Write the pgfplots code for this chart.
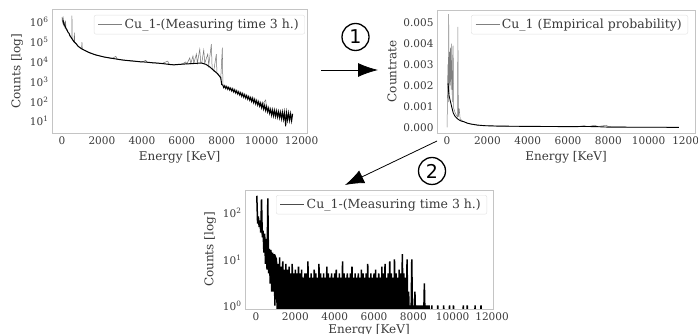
\documentclass[border=0pt]{standalone}
\usepackage{fontspec}
\setmainfont{DejaVu Serif}
\newfontfamily\circfont{DejaVu Sans}
\usepackage{pgfplots}
\pgfplotsset{compat=1.18}
\usetikzlibrary{arrows.meta}
\definecolor{txt}{HTML}{3A3A3A}
\definecolor{frm}{HTML}{C4C4C4}
\pgfplotsset{
  mystyle/.style={
    scale only axis,
    axis line style={frm, line width=0.8pt},
    major tick length=0pt, minor tick length=0pt,
    tick label style={font=\fontsize{10.5}{10.5}\selectfont, text=txt},
    label style={font=\fontsize{12}{12}\selectfont, text=txt},
    /pgf/number format/assume math mode=true,
    /pgf/number format/1000 sep={},
    scaled x ticks=false, scaled y ticks=false,
    xtick={0,2000,4000,6000,8000,10000,12000},
    legend style={draw=black!12, rounded corners=2pt, font=\fontsize{12.5}{14}\selectfont, text=txt, anchor=north east, inner xsep=4pt, inner ysep=2pt, fill=white},
    legend cell align=left,
    legend image code/.code={\draw[black!50, line width=0.6pt] (0pt,0pt) -- (24pt,0pt);},
  }
}
\begin{document}
\begin{tikzpicture}
\useasboundingbox (0pt,0pt) rectangle (698pt,334pt);
% ---------------- top-left ----------------
\begin{axis}[mystyle, at={(52pt,200.5pt)}, anchor=south west, width=255pt, height=124.5pt,
  xmin=-500, xmax=12270, ymode=log, ymin=2.43, ymax=4.7e6,
  ytick={10,100,1000,10000,100000,1000000},
  yticklabels={10\textsuperscript{1},10\textsuperscript{2},10\textsuperscript{3},10\textsuperscript{4},10\textsuperscript{5},10\textsuperscript{6}},
  xlabel={Energy [KeV]}, ylabel={Counts [log]},
  legend style={at={(0.992,0.952)}}]
\addplot[black!55, line width=0.5pt] coordinates {
(0,1.8e6)(20,1.0e6)(30,1.6e6)(45,8e5)(60,2.0e6)(75,7e5)(90,1.2e6)(110,6e5)(130,1.0e6)(150,5e5)(180,1.2e6)(200,4.5e5)(240,3.8e5)(300,3.3e5)(350,2.8e5)(400,2.0e5)(450,1.7e5)(490,1.5e5)(500,2.2e6)(510,1.4e5)(550,1.25e5)(600,1.0e5)(620,3e5)(640,9.5e4)(700,8.5e4)(800,6.3e4)(900,5.2e4)(980,4.6e4)(1000,1.0e5)(1020,4.4e4)(1200,3.5e4)(1400,2.8e4)(1600,2.4e4)(1800,2.1e4)(2000,1.86e4)(2200,1.7e4)(2500,1.48e4)(2700,1.9e4)(2750,1.42e4)(3000,1.26e4)(3500,1.1e4)(4000,1.0e4)(4200,1.2e4)(4250,9.8e3)(4500,9.1e3)(5000,8.3e3)(5300,1.1e4)(5350,7.9e3)(5500,7.4e3)(5800,7.4e3)(6000,7.6e3)(6200,1.0e4)(6250,7.9e3)(6400,1.6e4)(6450,8.2e3)(6560,2.0e4)(6600,8.4e3)(6730,2.5e4)(6780,8.7e3)(6900,4.4e4)(6950,8.9e3)(7000,8.9e3)(7100,4.0e4)(7150,8.5e3)(7300,2.5e4)(7350,6.6e3)(7480,8.0e4)(7520,4.5e3)(7600,3.5e3)(7730,2.5e4)(7760,2.6e3)(7900,1.8e3)(7950,1.4e3)(8030,5.2e4)(8060,6.3e2)(8400,4.4e2)(9000,2.2e2)(9500,1.26e2)(10000,63)(10200,1.2e2)(10250,48)(10500,28)(11000,20)(11500,16)
};
\addlegendentry{Cu\_1-(Measuring time 3 h.)}
\addplot[black, line width=1.0pt, forget plot] coordinates {
(50,1.26e6)(100,7.9e5)(150,6.6e5)(200,5.0e5)(250,4.2e5)(300,3.16e5)(350,2.8e5)(400,2.1e5)(450,1.78e5)(500,1.48e5)(600,1.05e5)(700,8.5e4)(800,6.3e4)(900,5.25e4)(1000,4.47e4)(1100,3.98e4)(1200,3.55e4)(1300,3.16e4)(1400,2.88e4)(1500,2.63e4)(1700,2.24e4)(1900,2.0e4)(2100,1.78e4)(2400,1.58e4)(2700,1.41e4)(3000,1.26e4)(3300,1.17e4)(3600,1.1e4)(3900,1.02e4)(4200,9.8e3)(4500,9.1e3)(4800,8.7e3)(5100,8.1e3)(5400,7.4e3)(5600,7.1e3)(5800,7.4e3)(6100,7.8e3)(6400,8.1e3)(6700,8.5e3)(7000,8.7e3)(7200,7.6e3)(7400,5.6e3)(7600,3.7e3)(7800,2.5e3)(7950,1.6e3)(8000,7.1e2)
(8050,692)(8100,501)(8150,631)(8200,457)(8250,575)(8300,417)(8350,525)(8400,380)(8450,479)(8500,339)(8550,442)(8600,302)(8650,394)(8700,269)(8750,351)(8800,240)(8850,313)(8900,214)(8950,279)(9000,186)(9050,254)(9100,166)(9150,226)(9200,148)(9250,202)(9300,132)(9350,180)(9400,117)(9450,160)(9500,100)(9550,148)(9600,87)(9650,129)(9700,76)(9750,112)(9800,66)(9850,98)(9900,58)(9950,85)(10000,48)(10050,77)(10100,41)(10150,65)(10200,35)(10250,56)(10300,30)(10350,47)(10400,25)(10450,40)(10500,20)(10550,38)(10600,18.6)(10650,36)(10700,17.4)(10750,33.5)(10800,16.2)(10850,31)(10900,15.1)(10950,29)(11000,13.2)(11050,29.5)(11100,12.6)(11150,28)(11200,5.6)(11250,27)(11300,11.5)(11350,26)(11400,11)(11450,24.5)(11500,10.5)(11550,24)
};
\end{axis}
% ---------------- top-right ----------------
\begin{axis}[mystyle, at={(437pt,201pt)}, anchor=south west, width=258pt, height=123pt,
  xmin=-500, xmax=12300, ymin=-0.00027, ymax=0.0056,
  ytick={0,0.001,0.002,0.003,0.004,0.005},
  yticklabels={0.000,0.001,0.002,0.003,0.004,0.005},
  xlabel={Energy [KeV]}, ylabel={Countrate},
  legend style={at={(0.973,0.96)}}]
\addplot[black!50, line width=0.5pt] coordinates {
(0,0)(40,0.0030)(60,0.0012)(80,0.0054)(100,0.0016)(130,0.0036)(150,0.0020)(170,0.0038)(200,0.0018)(230,0.0040)(260,0.0012)(300,0.0039)(330,0.0009)(400,0.0007)(450,0.0006)(520,0.0005)(535,0.0048)(560,0.0005)(600,0.0009)(650,0.0004)(800,0.00028)(1000,0.0002)(1200,0.00015)(1500,0.0001)(2000,0.00007)(3000,0.00005)(4000,0.00004)(5000,0.000035)(6000,0.00003)(6500,0.00004)(6800,0.00008)(7000,0.00003)(7300,0.0001)(7500,0.00004)(7900,0.0001)(8000,0.00003)(9000,0.000015)(10000,0.000006)(11500,0.000003)
};
\addlegendentry{Cu\_1 (Empirical probability)}
\addplot[black, line width=0.9pt, forget plot] coordinates {
(50,0.0021)(80,0.0017)(100,0.0015)(150,0.0013)(200,0.0011)(250,0.0009)(300,0.0007)(350,0.0006)(400,0.00052)(500,0.00042)(600,0.00035)(700,0.0003)(830,0.00027)(1000,0.0002)(1170,0.00016)(1500,0.00011)(1830,0.00008)(2500,0.00006)(3500,0.00005)(5000,0.00004)(6000,0.000035)(7000,0.00004)(7500,0.00003)(8000,0.00001)(9000,0.000006)(10000,0.000003)(11500,0.000001)
};
\end{axis}
% ---------------- bottom ----------------
\begin{axis}[mystyle, at={(245pt,25pt)}, anchor=south west, width=248pt, height=119pt,
  xmin=-560, xmax=12050, ymode=log, ymin=0.84, ymax=320,
  ytick={1,10,100},
  yticklabels={10\textsuperscript{0},10\textsuperscript{1},10\textsuperscript{2}},
  xlabel={Energy [KeV]}, ylabel={Counts [log]},
  xlabel style={yshift=3pt},
  legend style={at={(0.976,0.958)}},
  legend image code/.code={\draw[black!70, line width=0.5pt] (0pt,0pt) -- (24pt,0pt);}]
\addplot[black, line width=1.5pt] coordinates {
(40,240)(80,60)(120,85)(160,50)(200,70)(240,38)(280,200)(320,30)(360,42)(400,14)(440,36)(480,8)(520,28)(560,6)(600,210)(640,5)(680,17)(720,3)(760,16)(800,2)(840,14)(880,2)(920,13)(960,1)(1000,11)
(1040,10)(1080,0.4)(1120,8)(1160,0.4)(1200,11)(1240,0.4)(1280,7)(1320,0.4)(1360,9)(1400,0.4)(1440,6)(1480,0.4)(1520,8)(1560,0.4)(1600,6)(1640,0.4)(1680,7)(1720,0.4)(1760,5)(1800,0.4)(1840,8)(1880,0.4)(1920,5)(1960,0.4)
(2000,6)(2040,0.4)(2080,5)(2120,0.4)(2160,7)(2200,0.4)(2240,5)(2280,0.4)(2320,6)(2360,0.4)(2400,4)(2440,0.4)(2480,5)(2520,0.4)(2560,5)(2600,0.4)(2640,9)(2680,0.4)(2720,4)(2760,0.4)(2800,5)(2840,0.4)(2880,4)(2920,0.4)(2960,6)(3000,0.4)
(3040,5)(3080,0.4)(3120,4)(3160,0.4)(3200,8)(3240,0.4)(3280,5)(3320,0.4)(3360,4)(3400,0.4)(3440,5)(3480,0.4)(3520,4)(3560,0.4)(3600,7)(3640,0.4)(3680,5)(3720,0.4)(3760,4)(3800,0.4)(3840,5)(3880,0.4)(3920,4)(3960,0.4)
(4000,5)(4040,0.4)(4080,6)(4120,0.4)(4160,4)(4200,0.4)(4240,5)(4280,0.4)(4320,4)(4360,0.4)(4400,9)(4440,0.4)(4480,5)(4520,0.4)(4560,4)(4600,0.4)(4640,5)(4680,0.4)(4720,4)(4760,0.4)(4800,5)(4840,0.4)(4880,7)(4920,0.4)(4960,4)(5000,0.4)
(5040,5)(5080,0.4)(5120,4)(5160,0.4)(5200,5)(5240,0.4)(5280,4)(5320,0.4)(5360,6)(5400,0.4)(5440,5)(5480,0.4)(5520,4)(5560,0.4)(5600,5)(5640,0.4)(5680,8)(5720,0.4)(5760,4)(5800,0.4)(5840,5)(5880,0.4)(5920,4)(5960,0.4)
(6000,5)(6040,0.4)(6080,6)(6120,0.4)(6160,4)(6200,0.4)(6240,5)(6280,0.4)(6320,4)(6360,0.4)(6400,7)(6440,0.4)(6480,5)(6520,0.4)(6560,8)(6600,0.4)(6640,4)(6680,0.4)(6720,5)(6760,0.4)(6800,9)(6840,0.4)(6880,5)(6920,0.4)(6960,4)(7000,0.4)
(7040,10)(7080,0.4)(7120,5)(7160,0.4)(7200,4)(7240,0.4)(7280,6)(7320,0.4)(7360,5)(7400,0.4)(7440,13)(7480,0.4)(7520,5)(7560,0.4)(7600,4)(7640,0.4)(7680,10)
(7720,0.4)(7760,2)(7800,0.4)(7840,1)(7880,0.4)(7920,10)(7960,0.4)(8000,1)(8040,0.4)(8080,2)(8120,0.4)(8160,1)(8200,0.4)(8240,1)(8280,0.4)(8320,1)(8360,0.4)(8400,1)(8440,0.4)(8480,1)(8520,0.4)(8560,3)(8600,0.4)(8640,1)(8680,0.4)(8720,1)(8760,0.4)(8800,1)(8840,0.4)
(8900,0.4)(8940,1)(8980,0.4)(9200,0.4)(9240,1)(9280,0.4)(9500,0.4)(9540,1)(9580,0.4)(9800,0.4)(9840,1)(9880,0.4)(10000,0.4)(10040,1)(10080,0.4)(10500,0.4)(10540,1)(10580,0.4)(10700,0.4)(10740,1)(10780,0.4)(11100,0.4)(11140,1)(11180,0.4)(11400,0.4)(11440,1)(11480,0.4)
};
\addlegendentry{Cu\_1-(Measuring time 3 h.)}
\end{axis}
% ---------------- arrows and step numbers ----------------
\draw[black, line width=0.8pt, -{Latex[length=20pt,width=14pt]}] (321pt,264pt) -- (378pt,264pt);
\draw[black, line width=1.3pt] (355.5pt,297pt) circle (13.5pt);
\node[font=\circfont\fontsize{19}{19}\selectfont] at (355.5pt,297pt) {1};
\draw[black, line width=0.8pt, -{Latex[length=19pt,width=14pt]}] (437pt,193pt) -- (345pt,149pt);
\draw[black, line width=1.3pt] (432pt,163pt) circle (13.5pt);
\node[font=\circfont\fontsize{19}{19}\selectfont] at (432pt,163pt) {2};
\end{tikzpicture}
\end{document}
